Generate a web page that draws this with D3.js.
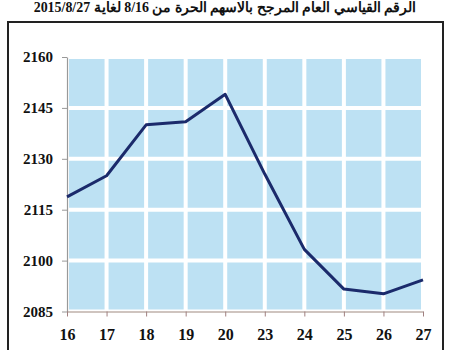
<!DOCTYPE html>
<html><head><meta charset="utf-8">
<script src="https://cdn.jsdelivr.net/npm/d3@7"></script>
<style>html,body{margin:0;padding:0;background:#fff;}svg{display:block;}
text{font-family:"Liberation Serif","Times New Roman",serif;}</style>
</head><body>
<script>
const categories = ["16","17","18","19","20","23","24","25","26","27"];
const values = [2118.8, 2125.0, 2140.0, 2140.9, 2149.0, 2125.5, 2103.3, 2091.6, 2090.2, 2094.3];
const yTicks = [2085, 2100, 2115, 2130, 2145, 2160];
const title = "الرقم القياسي العام المرجح بالاسهم الحرة من 8/16 لغاية 2015/8/27";

const W = 450, H = 350;
const svg = d3.select("body").append("svg").attr("width", W).attr("height", H);
const serif = '"Liberation Serif","Times New Roman",serif';

// outer frame
svg.append("rect").attr("x", 8).attr("y", 22).attr("width", 435).attr("height", 340)
  .attr("fill", "none").attr("stroke", "#222").attr("stroke-width", 2);

// title
const t = svg.append("text").attr("x", 225).attr("y", 12).attr("text-anchor", "middle")
  .attr("direction", "rtl")
  .attr("font-family", serif).attr("font-weight", "bold")
  .attr("font-size", 14).attr("fill", "#111").text(title);
const tw = t.node().getComputedTextLength();
if (tw > 382) t.attr("font-size", 14 * 382 / tw);

const x = d3.scalePoint().domain(categories).range([67, 423]);
const y = d3.scaleLinear().domain([2085, 2160]).range([311.5, 57]);

// plot background
svg.append("rect").attr("x", x.range()[0]).attr("y", y(2160))
  .attr("width", x.range()[1] - x.range()[0]).attr("height", y(2085) - y(2160))
  .attr("fill", "#bde1f3");

// white grid
svg.append("g").selectAll("line").data(categories).join("line")
  .attr("x1", d => x(d)).attr("x2", d => x(d)).attr("y1", y(2160)).attr("y2", y(2085))
  .attr("stroke", "#fff").attr("stroke-width", 4);
svg.append("g").selectAll("line").data(yTicks).join("line")
  .attr("x1", x.range()[0]).attr("x2", x.range()[1]).attr("y1", d => y(d)).attr("y2", d => y(d))
  .attr("stroke", "#fff").attr("stroke-width", 4);

// y axis
const yAxis = svg.append("g").attr("transform", `translate(${x.range()[0]},0)`)
  .call(d3.axisLeft(y).tickValues(yTicks).tickFormat(d3.format("d")).tickSize(5).tickPadding(9).tickSizeOuter(0));
yAxis.attr("font-family", serif);
yAxis.select(".domain").attr("stroke", "#999").attr("stroke-width", 1.2);
yAxis.selectAll(".tick line").attr("stroke", "#999");
yAxis.selectAll("text").attr("font-weight", "bold").attr("font-size", 15).attr("fill", "#111");

// x axis
const xAxis = svg.append("g").attr("transform", `translate(0,${y(2085)})`)
  .call(d3.axisBottom(x).tickSize(5).tickPadding(12).tickSizeOuter(0));
xAxis.attr("font-family", serif);
xAxis.select(".domain").attr("stroke", "#a08a80").attr("stroke-width", 1.2);
xAxis.selectAll(".tick line").attr("stroke", "#a08080");
xAxis.selectAll("text").attr("font-weight", "bold").attr("font-size", 16).attr("fill", "#111");

// line
const line = d3.line().x((d, i) => x(categories[i])).y(d => y(d));
svg.append("path").datum(values).attr("d", line).attr("fill", "none")
  .attr("stroke", "#1b2a6b").attr("stroke-width", 3).attr("stroke-linejoin", "round");
</script>
</body></html>
